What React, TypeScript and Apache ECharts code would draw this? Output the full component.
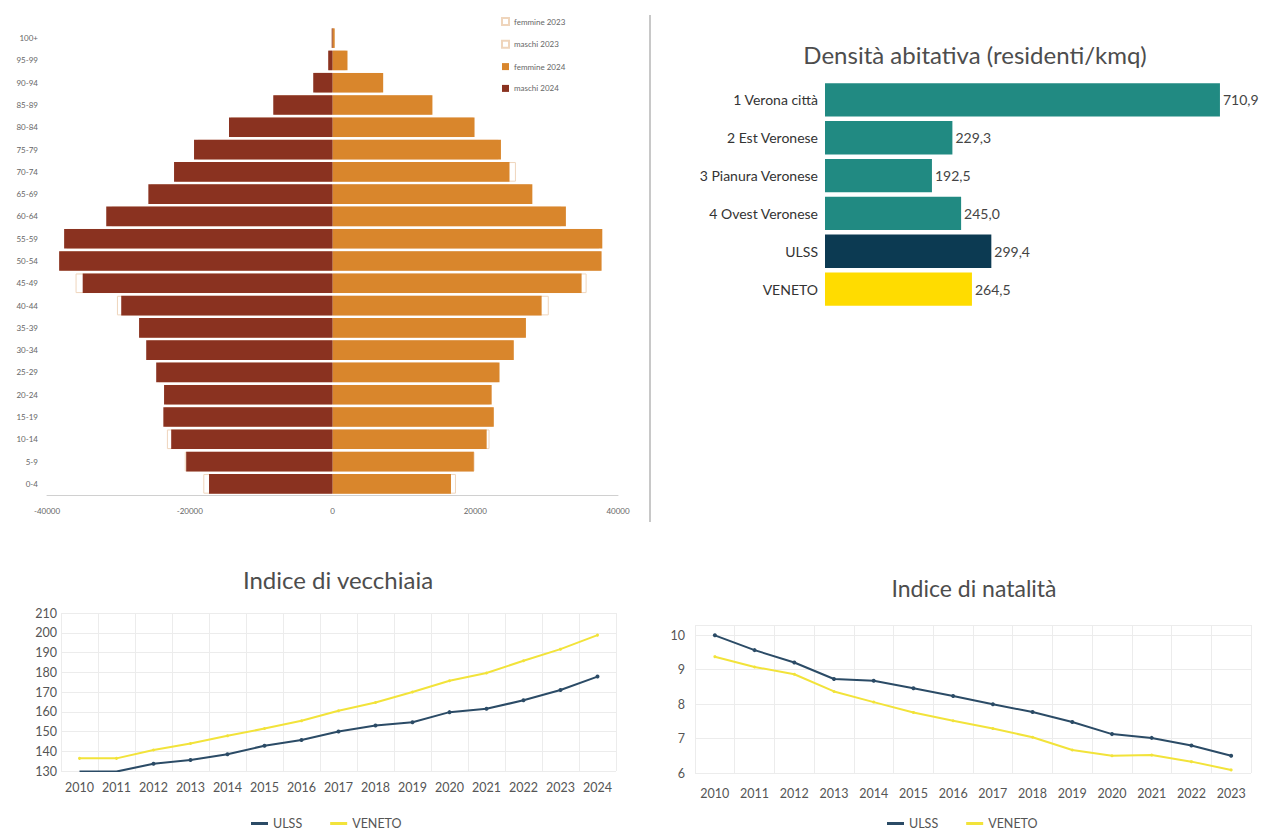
import React, { useEffect, useRef } from "react";
import * as echarts from "echarts";

const ageGroups = ["0-4","5-9","10-14","15-19","20-24","25-29","30-34","35-39","40-44","45-49","50-54","55-59","60-64","65-69","70-74","75-79","80-84","85-89","90-94","95-99","100+"];
const maschi2024 = [-17300,-20500,-22600,-23700,-23600,-24700,-26100,-27100,-29600,-35000,-38300,-37600,-31700,-25800,-22200,-19400,-14500,-8300,-2700,-600,-100];
const maschi2023 = [-18100,-20700,-23200,-23500,-23400,-24400,-25900,-27000,-30200,-36000,-38200,-37300,-31000,-25500,-22000,-18900,-14300,-8200,-2500,-550,-80];
const femmine2024 = [16600,19800,21600,22600,22300,23400,25400,27100,29300,34900,37700,37800,32700,28000,24800,23600,19900,14000,7100,2100,300];
const femmine2023 = [17300,19900,22000,22500,22100,23200,25300,27000,30300,35600,37600,37400,32100,27700,25700,23300,19800,13900,6800,1900,280];
const pyramidTicks = [-40000, -20000, 0, 20000, 40000];

const distretti = ["1 Verona città","2 Est Veronese","3 Pianura Veronese","4 Ovest Veronese","ULSS","VENETO"];
const densita = [710.9, 229.3, 192.5, 245.0, 299.4, 264.5];
const densitaColors = ["#218a82","#218a82","#218a82","#218a82","#0c3a52","#ffdc00"];

const anniVecchiaia = ["2010","2011","2012","2013","2014","2015","2016","2017","2018","2019","2020","2021","2022","2023","2024"];
const vecchiaiaULSS = [129.7,129.7,133.7,135.6,138.5,142.8,145.7,150.0,153.0,154.7,159.8,161.5,165.8,171.0,177.8];
const vecchiaiaVeneto = [136.4,136.4,140.6,143.9,147.8,151.5,155.4,160.5,164.7,170.0,175.7,179.6,185.8,191.7,198.8];

const anniNatalita = ["2010","2011","2012","2013","2014","2015","2016","2017","2018","2019","2020","2021","2022","2023"];
const natalitaULSS = [10.0,9.57,9.21,8.73,8.68,8.46,8.24,8.0,7.77,7.48,7.13,7.02,6.8,6.5];
const natalitaVeneto = [9.38,9.08,8.87,8.37,8.06,7.76,7.52,7.29,7.04,6.67,6.5,6.52,6.33,6.09];

const ULSS_COLOR = "#2b4b66";
const VENETO_COLOR = "#f2e33a";

export default function App() {
  const ref = useRef<HTMLDivElement>(null);
  useEffect(() => {
    if (!ref.current) return;
    const chart = echarts.init(ref.current, undefined, { renderer: "svg" });
    const grid2023 = { color: "#ffffff", borderColor: "#efd5bc", borderWidth: 1 };
    const lineAxisLabel = { color: "#555", fontSize: 12.5, fontFamily: "Lato" };
    const splitLine = { show: true, lineStyle: { color: "#ececec", width: 1 } };
    const titleStyle = { fontWeight: "normal", color: "#4d4d4d", fontFamily: "Lato" };
    chart.setOption({
      animation: false,
      textStyle: { fontFamily: "Lato" },
      title: [
        { text: "Densità abitativa (residenti/kmq)", left: 970, top: 37, textAlign: "center",
          textStyle: { ...titleStyle, fontSize: 24 } },
        { text: "Indice di vecchiaia", left: 333, top: 562, textAlign: "center",
          textStyle: { ...titleStyle, fontSize: 24 } },
        { text: "Indice di natalità", left: 969, top: 571, textAlign: "center",
          textStyle: { ...titleStyle, fontSize: 23 } },
      ],
      legend: [
        { data: ["femmine 2023","maschi 2023","femmine 2024","maschi 2024"], orient: "vertical",
          left: 496, top: 12, itemWidth: 7, itemHeight: 7, itemGap: 13.8, icon: "rect",
          textStyle: { fontSize: 8, color: "#666", fontFamily: "Lato" } },
        { data: ["ULSS","VENETO"], left: 246, top: 812, itemWidth: 17, itemHeight: 3, itemGap: 28, icon: "rect",
          textStyle: { fontSize: 12.5, color: "#555", fontFamily: "Lato" } },
        { data: ["ULSS","VENETO"], left: 882, top: 812, itemWidth: 17, itemHeight: 3, itemGap: 28, icon: "rect",
          textStyle: { fontSize: 12.5, color: "#555", fontFamily: "Lato" } },
      ],
      grid: [
        { left: 47, top: 27, width: 571, height: 468 },
        { left: 825, top: 81, width: 400, height: 227 },
        { left: 61, top: 613, width: 555, height: 158 },
        { left: 695, top: 625, width: 556, height: 148 },
      ],
      xAxis: [
        { gridIndex: 0, type: "value", min: -40000, max: 40000, interval: 20000,
          axisLine: { show: true, lineStyle: { color: "#d0d0d0" } }, axisTick: { show: false },
          splitLine: { show: false },
          axisLabel: { fontSize: 8, color: "#666", margin: 12,
            formatter: (v: number) => (pyramidTicks.includes(v) ? String(v) : "") } },
        { gridIndex: 1, type: "value", min: 0, max: 720, show: false },
        { gridIndex: 2, type: "category", data: anniVecchiaia, boundaryGap: true,
          axisLine: { show: false }, axisTick: { show: false }, splitLine: { ...splitLine, interval: 0 },
          axisLabel: { ...lineAxisLabel, margin: 10, interval: 0 } },
        { gridIndex: 3, type: "category", data: anniNatalita, boundaryGap: true,
          axisLine: { show: false }, axisTick: { show: false }, splitLine: { ...splitLine, interval: 0 },
          axisLabel: { ...lineAxisLabel, margin: 14, interval: 0 } },
      ],
      yAxis: [
        { gridIndex: 0, type: "category", data: ageGroups,
          axisLine: { show: false }, axisTick: { show: false },
          axisLabel: { fontSize: 8, color: "#666", margin: 9, interval: 0 } },
        { gridIndex: 1, type: "category", data: distretti, inverse: true,
          axisLine: { show: false }, axisTick: { show: false },
          axisLabel: { fontSize: 14, color: "#333", margin: 7 } },
        { gridIndex: 2, type: "value", min: 130, max: 210, interval: 10,
          axisLine: { show: false }, axisTick: { show: false }, splitLine: splitLine,
          axisLabel: { ...lineAxisLabel, margin: 4 } },
        { gridIndex: 3, type: "value", min: 6, max: 10.3, interval: 1,
          axisLine: { show: false }, axisTick: { show: false }, splitLine: splitLine,
          axisLabel: { ...lineAxisLabel, margin: 10, showMaxLabel: false } },
      ],
      series: [
        { name: "femmine 2023", type: "bar", xAxisIndex: 0, yAxisIndex: 0, data: femmine2023,
          itemStyle: grid2023, barGap: "-100%", barCategoryGap: "12%" },
        { name: "maschi 2023", type: "bar", xAxisIndex: 0, yAxisIndex: 0, data: maschi2023,
          itemStyle: grid2023, barGap: "-100%", barCategoryGap: "12%" },
        { name: "femmine 2024", type: "bar", xAxisIndex: 0, yAxisIndex: 0, data: femmine2024,
          itemStyle: { color: "#d9862c" }, barGap: "-100%", barCategoryGap: "12%" },
        { name: "maschi 2024", type: "bar", xAxisIndex: 0, yAxisIndex: 0, data: maschi2024,
          itemStyle: { color: "#8a3220" }, barGap: "-100%", barCategoryGap: "12%" },
        { name: "Densità", type: "bar", xAxisIndex: 1, yAxisIndex: 1, barCategoryGap: "12%",
          data: densita.map((v, i) => ({ value: v, itemStyle: { color: densitaColors[i] } })),
          label: { show: true, position: "right", distance: 3, fontSize: 14, color: "#444",
            formatter: (p: any) => p.value.toFixed(1).replace(".", ",") } },
        { name: "ULSS", type: "line", xAxisIndex: 2, yAxisIndex: 2, data: vecchiaiaULSS,
          itemStyle: { color: ULSS_COLOR }, lineStyle: { color: ULSS_COLOR, width: 2 },
          symbol: "circle", symbolSize: 4 },
        { name: "VENETO", type: "line", xAxisIndex: 2, yAxisIndex: 2, data: vecchiaiaVeneto,
          itemStyle: { color: VENETO_COLOR }, lineStyle: { color: VENETO_COLOR, width: 2 },
          symbol: "circle", symbolSize: 3 },
        { name: "ULSS", type: "line", xAxisIndex: 3, yAxisIndex: 3, data: natalitaULSS,
          itemStyle: { color: ULSS_COLOR }, lineStyle: { color: ULSS_COLOR, width: 2 },
          symbol: "circle", symbolSize: 4 },
        { name: "VENETO", type: "line", xAxisIndex: 3, yAxisIndex: 3, data: natalitaVeneto,
          itemStyle: { color: VENETO_COLOR }, lineStyle: { color: VENETO_COLOR, width: 2 },
          symbol: "circle", symbolSize: 3 },
      ],
      graphic: [
        { type: "line", shape: { x1: 650, y1: 15, x2: 650, y2: 522 },
          style: { stroke: "#c8c8c8", lineWidth: 2 } },
      ],
    });
    return () => chart.dispose();
  }, []);
  return (
    <div ref={ref} style={{ position: "absolute", left: 0, top: 0, width: 1269, height: 832, background: "#fff" }} />
  );
}
